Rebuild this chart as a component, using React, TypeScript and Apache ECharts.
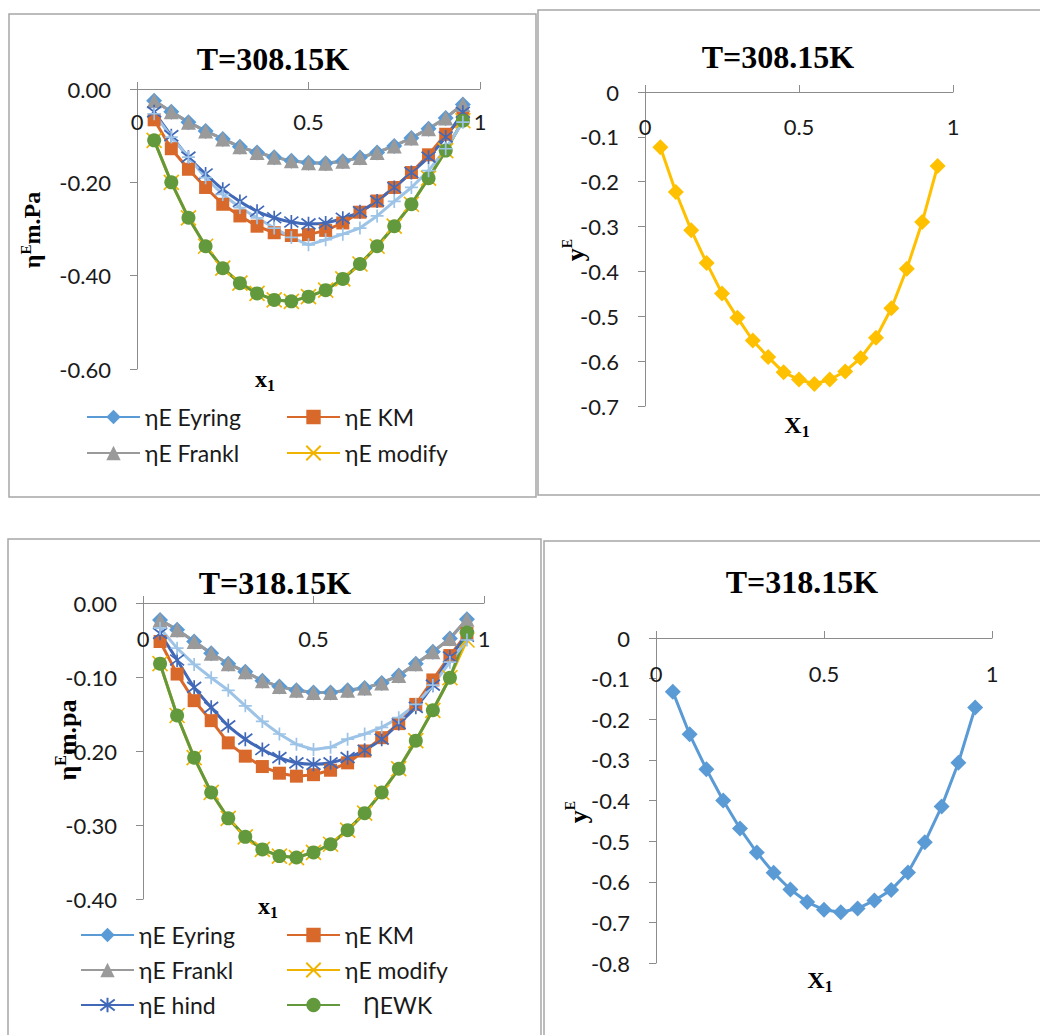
import React, { useEffect, useRef } from 'react';
import * as echarts from 'echarts';

// ---------- data ----------
const xValues = [0.05, 0.10, 0.15, 0.20, 0.25, 0.30, 0.35, 0.40, 0.45, 0.50, 0.55, 0.60, 0.65, 0.70, 0.75, 0.80, 0.85, 0.90, 0.95];

// T = 308.15 K, viscosity deviations
const eyring308 = [-0.025, -0.049, -0.071, -0.090, -0.107, -0.124, -0.136, -0.146, -0.154, -0.158, -0.159, -0.155, -0.147, -0.136, -0.122, -0.105, -0.085, -0.062, -0.033];
const km308 = [-0.066, -0.128, -0.172, -0.211, -0.247, -0.272, -0.294, -0.308, -0.314, -0.312, -0.303, -0.287, -0.264, -0.240, -0.211, -0.179, -0.141, -0.097, -0.062];
const frankl308 = [-0.025, -0.049, -0.071, -0.090, -0.107, -0.124, -0.136, -0.146, -0.154, -0.158, -0.159, -0.155, -0.147, -0.136, -0.122, -0.105, -0.085, -0.062, -0.033];
const modify308 = [-0.110, -0.200, -0.276, -0.337, -0.384, -0.416, -0.438, -0.452, -0.455, -0.445, -0.431, -0.407, -0.375, -0.337, -0.294, -0.247, -0.191, -0.132, -0.068];
const hind308 = [-0.049, -0.100, -0.146, -0.182, -0.215, -0.241, -0.262, -0.276, -0.285, -0.289, -0.287, -0.277, -0.263, -0.240, -0.211, -0.179, -0.146, -0.103, -0.050];
const ewk308 = [-0.110, -0.200, -0.276, -0.337, -0.384, -0.416, -0.438, -0.452, -0.455, -0.445, -0.431, -0.407, -0.375, -0.337, -0.294, -0.247, -0.191, -0.132, -0.068];
const extra308 = [-0.053, -0.103, -0.146, -0.190, -0.226, -0.254, -0.276, -0.298, -0.318, -0.334, -0.323, -0.311, -0.298, -0.272, -0.241, -0.211, -0.175, -0.128, -0.071];

// T = 308.15 K, excess molar volume
const vE308 = [-0.123, -0.223, -0.308, -0.381, -0.449, -0.503, -0.554, -0.591, -0.625, -0.641, -0.651, -0.641, -0.623, -0.593, -0.548, -0.482, -0.394, -0.290, -0.165];

// T = 318.15 K, viscosity deviations
const eyring318 = [-0.023, -0.036, -0.052, -0.068, -0.082, -0.093, -0.105, -0.113, -0.118, -0.121, -0.121, -0.118, -0.115, -0.108, -0.098, -0.082, -0.066, -0.048, -0.022];
const km318 = [-0.052, -0.096, -0.132, -0.159, -0.189, -0.207, -0.221, -0.230, -0.234, -0.232, -0.226, -0.216, -0.200, -0.182, -0.163, -0.137, -0.104, -0.071, -0.041];
const frankl318 = [-0.023, -0.036, -0.052, -0.068, -0.082, -0.093, -0.105, -0.113, -0.118, -0.121, -0.121, -0.118, -0.115, -0.108, -0.098, -0.082, -0.066, -0.048, -0.022];
const modify318 = [-0.082, -0.152, -0.209, -0.256, -0.291, -0.316, -0.333, -0.342, -0.344, -0.337, -0.326, -0.307, -0.284, -0.256, -0.224, -0.186, -0.145, -0.101, -0.050];
const hind318 = [-0.041, -0.077, -0.114, -0.141, -0.166, -0.184, -0.198, -0.209, -0.216, -0.218, -0.216, -0.209, -0.199, -0.184, -0.163, -0.141, -0.111, -0.073, -0.045];
const ewk318 = [-0.082, -0.152, -0.209, -0.256, -0.291, -0.316, -0.333, -0.342, -0.344, -0.337, -0.326, -0.307, -0.284, -0.256, -0.224, -0.186, -0.145, -0.101, -0.040];
const extra318 = [-0.034, -0.061, -0.083, -0.101, -0.118, -0.139, -0.160, -0.177, -0.191, -0.198, -0.195, -0.184, -0.177, -0.168, -0.155, -0.137, -0.111, -0.080, -0.050];

// T = 318.15 K, excess molar volume
const vE318 = [-0.132, -0.237, -0.323, -0.400, -0.469, -0.528, -0.578, -0.619, -0.650, -0.669, -0.675, -0.666, -0.646, -0.620, -0.577, -0.503, -0.415, -0.307, -0.171];

const xTicks = [0, 0.5, 1];
const titles = ['T=308.15K', 'T=308.15K', 'T=318.15K', 'T=318.15K'];
const legendNames = ['ηE Eyring', 'ηE KM', 'ηE Frankl', 'ηE modify', 'ηE hind', 'ȠEWK'];

// ---------- styles ----------
const FONT = 'Lato, "Noto Sans", "DejaVu Sans", sans-serif';
const SERIF = '"Liberation Serif", "Times New Roman", serif';
const AXIS = '#8c8c8c';
const C = {
  eyring: '#5B9BD5',
  km: '#D9692B',
  frankl: '#9A9A9A',
  modify: '#F0B400',
  hind: '#4169B8',
  ewk: '#62993D',
  extra: '#9DC3E6',
};
const SYM_X = 'path://M0,0L10,10M10,0L0,10';
const SYM_PLUS = 'path://M5,0L5,10M0,5L10,5';
const SYM_AST = 'path://M0,0L10,10M10,0L0,10M5,-1.5L5,11.5';

const pts = (ys: number[]) => xValues.map((x, i) => [x, ys[i]]);

function lineSeries(name: string, data: number[], idx: number, color: string, symbol: string, size: number, extra: any = {}) {
  const stroked = symbol.startsWith('path://');
  return {
    type: 'line',
    name,
    xAxisIndex: idx,
    yAxisIndex: idx,
    data: pts(data),
    symbol,
    symbolSize: size,
    showSymbol: true,
    lineStyle: { color, width: 3 },
    itemStyle: stroked
      ? { color, borderColor: color, borderWidth: 1.7 }
      : { color, borderWidth: 0 },
    emphasis: { disabled: true },
    ...extra,
  };
}

function etaSeries(idx: number, d: any) {
  return [
    lineSeries('ηE Eyring', d.eyring, idx, C.eyring, 'diamond', 16),
    lineSeries('ηE KM', d.km, idx, C.km, 'rect', 13),
    lineSeries('ηE Frankl', d.frankl, idx, C.frankl, 'triangle', 15),
    lineSeries('ηE modify', d.modify, idx, C.modify, SYM_X, 15),
    lineSeries('ηE hind', d.hind, idx, C.hind, SYM_AST, 14, { smooth: 0.3 }),
    lineSeries('ȠEWK', d.ewk, idx, C.ewk, 'circle', 14),
    lineSeries('Series7', d.extra, idx, C.extra, SYM_PLUS, 13),
  ];
}

function xAxis(gridIndex: number, margin: number) {
  return {
    type: 'value',
    gridIndex,
    position: 'top',
    min: 0,
    max: 1,
    interval: 0.5,
    axisLine: { show: true, onZero: false, lineStyle: { color: AXIS, width: 1 } },
    axisTick: { show: true, inside: false, length: 7, lineStyle: { color: AXIS } },
    axisLabel: {
      inside: true,
      margin,
      fontSize: 22,
      fontFamily: FONT,
      color: '#1a1a1a',
      customValues: xTicks,
      formatter: (v: number) => String(v),
    },
    splitLine: { show: false },
  };
}

function yAxis(gridIndex: number, min: number, interval: number, decimals: number, fixedZero: boolean) {
  return {
    type: 'value',
    gridIndex,
    min,
    max: 0,
    interval,
    axisLine: { show: true, onZero: false, lineStyle: { color: AXIS, width: 1 } },
    axisTick: { show: true, inside: false, length: 7, lineStyle: { color: AXIS } },
    axisLabel: {
      margin: 26,
      fontSize: 22,
      fontFamily: FONT,
      color: '#1a1a1a',
      formatter: (v: number) => {
        if (Math.abs(v) < 1e-9) return fixedZero ? (0).toFixed(decimals) : '0';
        return v.toFixed(decimals);
      },
    },
    splitLine: { show: false },
  };
}

function legendCol(names: string[], left: number, top: number, gap: number) {
  return {
    data: names,
    left,
    top,
    orient: 'vertical',
    itemWidth: 53,
    itemHeight: 18,
    itemGap: gap,
    padding: 0,
    selectedMode: false,
    formatter: (n: string) => (n === 'ȠEWK' ? '{p|' + n + '}' : n),
    textStyle: {
      fontSize: 23,
      fontFamily: FONT,
      color: '#1a1a1a',
      lineHeight: 24,
      rich: { p: { padding: [0, 0, 0, 18], fontSize: 23, fontFamily: FONT, color: '#1a1a1a' } },
    },
  };
}

const serifRich = (size: number, supSize: number) => ({
  a: { fontFamily: SERIF, fontWeight: 'bold', fontSize: size, lineHeight: size + 4, fill: '#000' },
  sup: { fontFamily: SERIF, fontWeight: 'bold', fontSize: supSize, verticalAlign: 'top', lineHeight: supSize + 2, fill: '#000' },
  sub: { fontFamily: SERIF, fontWeight: 'bold', fontSize: supSize, verticalAlign: 'bottom', lineHeight: supSize + 2, fill: '#000' },
});

function richText(x: number, y: number, text: string, size: number, supSize: number, rotate = 0) {
  return {
    type: 'text',
    x,
    y,
    rotation: rotate,
    z: 10,
    style: {
      text,
      rich: serifRich(size, supSize),
      align: 'center',
      verticalAlign: 'middle',
      textAlign: 'center',
      textVerticalAlign: 'middle',
    },
  };
}

function titleText(x: number, y: number, text: string) {
  return {
    type: 'text',
    x,
    y,
    z: 10,
    style: {
      text,
      fontFamily: SERIF,
      fontWeight: 'bold',
      fontSize: 32,
      fill: '#000',
      align: 'center',
      verticalAlign: 'middle',
      textAlign: 'center',
      textVerticalAlign: 'middle',
    },
  };
}

function frame(x: number, y: number, w: number, h: number) {
  return {
    type: 'rect',
    shape: { x, y, width: w, height: h },
    z: 0,
    style: { fill: 'none', stroke: '#a6a6a6', lineWidth: 1.5 },
  };
}

export default function App() {
  const ref = useRef<HTMLDivElement>(null);
  useEffect(() => {
    if (!ref.current) return;
    const chart = echarts.init(ref.current, undefined, { renderer: 'svg' });
    const option: any = {
      animation: false,
      backgroundColor: '#ffffff',
      grid: [
        { left: 137, top: 89, width: 343, height: 280 },
        { left: 645, top: 92, width: 308, height: 314 },
        { left: 143, top: 603, width: 341, height: 296 },
        { left: 656, top: 638, width: 336, height: 325 },
      ],
      xAxis: [xAxis(0, 21), xAxis(1, 23), xAxis(2, 24), xAxis(3, 24)],
      yAxis: [
        yAxis(0, -0.6, 0.2, 2, true),
        yAxis(1, -0.7, 0.1, 1, false),
        yAxis(2, -0.4, 0.1, 2, true),
        yAxis(3, -0.8, 0.1, 1, false),
      ],
      legend: [
        legendCol([legendNames[0], legendNames[2]], 86, 405, 12),
        legendCol([legendNames[1], legendNames[3]], 286, 405, 12),
        legendCol([legendNames[0], legendNames[2], legendNames[4]], 80, 923, 11),
        legendCol([legendNames[1], legendNames[3], legendNames[5]], 286, 923, 11),
      ],
      series: [
        ...etaSeries(0, { eyring: eyring308, km: km308, frankl: frankl308, modify: modify308, hind: hind308, ewk: ewk308, extra: extra308 }),
        lineSeries('VE308', vE308, 1, '#FFC000', 'diamond', 16),
        ...etaSeries(2, { eyring: eyring318, km: km318, frankl: frankl318, modify: modify318, hind: hind318, ewk: ewk318, extra: extra318 }),
        lineSeries('VE318', vE318, 3, '#5B9BD5', 'diamond', 16),
      ],
      graphic: [
        frame(9, 14, 527, 483),
        frame(538, 10, 510, 485),
        frame(8, 539, 533, 510),
        frame(544, 541, 510, 510),
        titleText(273, 59, titles[0]),
        titleText(778, 57, titles[1]),
        titleText(275, 583, titles[2]),
        titleText(802, 582, titles[3]),
        richText(265, 379, '{a|x}{sub|1}', 24, 16),
        richText(797, 425, '{a|X}{sub|1}', 24, 16),
        richText(268, 906, '{a|x}{sub|1}', 24, 16),
        richText(820, 980, '{a|X}{sub|1}', 24, 16),
        richText(32, 230, '{a|η}{sup|E}{a|m.Pa}', 24, 15, Math.PI / 2),
        richText(67, 740, '{a|η}{sup|E}{a|m.pa}', 26, 16, Math.PI / 2),
        richText(575, 250, '{a|y}{sup|E}', 26, 14, Math.PI / 2),
        richText(578, 812, '{a|y}{sup|E}', 26, 14, Math.PI / 2),
      ],
    };
    chart.setOption(option);
    return () => chart.dispose();
  }, []);
  return (
    <div
      ref={ref}
      style={{ position: 'absolute', left: 0, top: 0, width: 1040, height: 1035, background: '#fff' }}
    />
  );
}
